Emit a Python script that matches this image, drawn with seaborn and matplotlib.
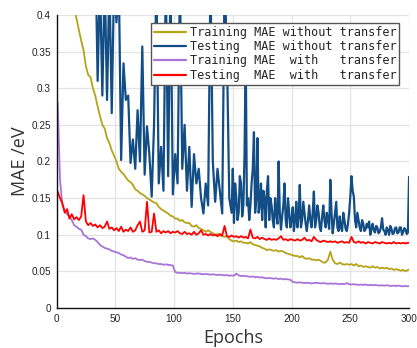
import numpy as np
import pandas as pd
import matplotlib
matplotlib.use("Agg")
import matplotlib.pyplot as plt
from matplotlib.lines import Line2D
import seaborn as sns

# epochs sampled (every 2 epochs, plus final epoch)
epochs = list(range(1, 300, 2)) + [300]
# the noisy testing curve is read at every epoch after epoch 150
epochs_test_no_tl = list(range(1, 150, 2)) + list(range(150, 301))

train_no_tl = [
    0.80, 0.70, 0.62, 0.56, 0.51, 0.47, 0.43, 0.41, 0.395, 0.38,
    0.365, 0.352, 0.33, 0.318, 0.315, 0.30, 0.29, 0.275, 0.262, 0.25,
    0.245, 0.232, 0.225, 0.215, 0.208, 0.20, 0.19, 0.186, 0.183, 0.178,
    0.174, 0.172, 0.168, 0.162, 0.160, 0.157, 0.155, 0.153, 0.150, 0.148,
    0.146, 0.144, 0.143, 0.138, 0.135, 0.133, 0.131, 0.129, 0.126, 0.125,
    0.122, 0.122, 0.119, 0.120, 0.117, 0.116, 0.116, 0.112, 0.111, 0.113,
    0.109, 0.108, 0.106, 0.104, 0.106, 0.104, 0.102, 0.100, 0.101, 0.099,
    0.098, 0.097, 0.098, 0.094, 0.092, 0.091, 0.092, 0.090, 0.091, 0.089,
    0.089, 0.088, 0.090, 0.087, 0.086, 0.085, 0.084, 0.082, 0.081, 0.079,
    0.080, 0.079, 0.078, 0.079, 0.077, 0.078, 0.077, 0.075, 0.074, 0.073,
    0.072, 0.071, 0.071, 0.069, 0.071, 0.068, 0.067, 0.068, 0.066, 0.066,
    0.065, 0.066, 0.064, 0.062, 0.062, 0.066, 0.077, 0.066, 0.061, 0.060,
    0.062, 0.060, 0.059, 0.060, 0.059, 0.060, 0.058, 0.060, 0.057, 0.058,
    0.056, 0.057, 0.056, 0.055, 0.057, 0.055, 0.056, 0.054, 0.055, 0.054,
    0.055, 0.053, 0.054, 0.052, 0.053, 0.052, 0.051, 0.052, 0.050, 0.052,
    0.052,
]

test_no_tl = [
    # epochs 1..149 (odd)
    0.95, 0.85, 0.80, 0.72, 0.76, 0.66, 0.70, 0.62, 0.64, 0.58,
    0.60, 0.55, 0.57, 0.52, 0.54, 0.49, 0.50, 0.31, 0.45, 0.29,
    0.45, 0.284, 0.45, 0.266, 0.45, 0.39, 0.45, 0.202, 0.334, 0.284,
    0.29, 0.198, 0.23, 0.19, 0.27, 0.20, 0.357, 0.182, 0.248, 0.21,
    0.152, 0.25, 0.45, 0.17, 0.22, 0.16, 0.45, 0.18, 0.45, 0.155,
    0.21, 0.17, 0.45, 0.19, 0.25, 0.16, 0.22, 0.138, 0.21, 0.17,
    0.19, 0.15, 0.129, 0.17, 0.14, 0.45, 0.20, 0.145, 0.19, 0.16,
    0.129, 0.45, 0.35, 0.15, 0.13,
    # epochs 150..300 (every epoch)
    0.19, 0.116, 0.17, 0.15, 0.12, 0.13, 0.18, 0.17, 0.125, 0.14,
    0.21, 0.35, 0.14, 0.15, 0.12, 0.14, 0.17, 0.19, 0.24, 0.13,
    0.15, 0.232, 0.13, 0.14, 0.17, 0.12, 0.16, 0.15, 0.11, 0.161,
    0.18, 0.12, 0.15, 0.14, 0.12, 0.11, 0.15, 0.13, 0.115, 0.20,
    0.13, 0.107, 0.125, 0.14, 0.17, 0.12, 0.11, 0.15, 0.13, 0.11,
    0.12, 0.1375, 0.105, 0.12, 0.145, 0.11, 0.125, 0.168, 0.11, 0.12,
    0.145, 0.13, 0.115, 0.105, 0.12, 0.14, 0.12, 0.11, 0.13, 0.159,
    0.11, 0.12, 0.14, 0.13, 0.11, 0.105, 0.125, 0.14, 0.12, 0.11,
    0.13, 0.12, 0.108, 0.175, 0.13, 0.102, 0.115, 0.13, 0.145, 0.11,
    0.105, 0.125, 0.11, 0.105, 0.13, 0.12, 0.108, 0.105, 0.115, 0.13,
    0.152, 0.18, 0.16, 0.152, 0.12, 0.11, 0.13, 0.12, 0.11, 0.105,
    0.12, 0.115, 0.105, 0.1075, 0.115, 0.11, 0.118, 0.10, 0.108, 0.115,
    0.106, 0.103, 0.112, 0.11, 0.102, 0.104, 0.11, 0.1225, 0.107, 0.105,
    0.10, 0.11, 0.106, 0.10, 0.112, 0.108, 0.101, 0.102, 0.109, 0.11,
    0.102, 0.103, 0.11, 0.11, 0.10, 0.104, 0.109, 0.107, 0.101, 0.103,
    0.179,
]

train_tl = [
    0.280, 0.175, 0.140, 0.133, 0.128, 0.125, 0.120, 0.113, 0.111, 0.108,
    0.107, 0.100, 0.098, 0.095, 0.094, 0.095, 0.093, 0.090, 0.086, 0.084,
    0.082, 0.081, 0.080, 0.078, 0.077, 0.076, 0.075, 0.073, 0.072, 0.070,
    0.068, 0.069, 0.067, 0.068, 0.066, 0.0655, 0.066, 0.064, 0.063, 0.063,
    0.062, 0.061, 0.061, 0.060, 0.060, 0.059, 0.0595, 0.059, 0.0585, 0.058,
    0.049, 0.048, 0.048, 0.0475, 0.048, 0.047, 0.0475, 0.047, 0.0465, 0.047,
    0.047, 0.0465, 0.046, 0.0465, 0.046, 0.0455, 0.046, 0.0455, 0.045, 0.0455,
    0.045, 0.0445, 0.045, 0.044, 0.0445, 0.044, 0.047, 0.0445, 0.0435, 0.044,
    0.0435, 0.043, 0.0425, 0.043, 0.042, 0.0425, 0.0415, 0.042, 0.041, 0.0405,
    0.041, 0.0405, 0.040, 0.0405, 0.0395, 0.040, 0.039, 0.0395, 0.039, 0.0385,
    0.0355, 0.035, 0.0345, 0.035, 0.0345, 0.034, 0.0345, 0.034, 0.0335, 0.034,
    0.0345, 0.034, 0.0335, 0.034, 0.0335, 0.033, 0.0335, 0.033, 0.0335, 0.033,
    0.0325, 0.033, 0.0325, 0.034, 0.0325, 0.032, 0.0325, 0.032, 0.0315, 0.032,
    0.0315, 0.032, 0.031, 0.0315, 0.031, 0.0315, 0.031, 0.0305, 0.031, 0.0305,
    0.031, 0.0305, 0.030, 0.0305, 0.030, 0.0305, 0.030, 0.0295, 0.030, 0.0295,
    0.030,
]

test_tl = [
    0.159, 0.150, 0.143, 0.130, 0.135, 0.122, 0.128, 0.121, 0.124, 0.120,
    0.125, 0.154, 0.118, 0.113, 0.116, 0.112, 0.114, 0.110, 0.113, 0.109,
    0.111, 0.118, 0.108, 0.110, 0.106, 0.109, 0.105, 0.111, 0.104, 0.107,
    0.105, 0.110, 0.104, 0.106, 0.113, 0.118, 0.104, 0.106, 0.145, 0.103,
    0.104, 0.129, 0.104, 0.106, 0.102, 0.105, 0.103, 0.105, 0.102, 0.104,
    0.103, 0.105, 0.102, 0.101, 0.104, 0.101, 0.102, 0.100, 0.104, 0.100,
    0.102, 0.106, 0.100, 0.101, 0.099, 0.101, 0.099, 0.100, 0.098, 0.101,
    0.099, 0.112, 0.098, 0.097, 0.099, 0.097, 0.098, 0.096, 0.098, 0.096,
    0.097, 0.095, 0.107, 0.096, 0.095, 0.097, 0.094, 0.096, 0.094, 0.093,
    0.095, 0.093, 0.094, 0.093, 0.095, 0.098, 0.093, 0.094, 0.092, 0.094,
    0.093, 0.092, 0.094, 0.092, 0.093, 0.096, 0.092, 0.093, 0.091, 0.097,
    0.093, 0.091, 0.090, 0.092, 0.091, 0.090, 0.091, 0.090, 0.091, 0.089,
    0.090, 0.091, 0.089, 0.090, 0.089, 0.097, 0.090, 0.089, 0.091, 0.089,
    0.090, 0.088, 0.090, 0.089, 0.088, 0.090, 0.089, 0.088, 0.090, 0.089,
    0.088, 0.089, 0.088, 0.090, 0.088, 0.089, 0.088, 0.089, 0.088, 0.089,
    0.089,
]

labels = [
    "Training MAE without transfer",
    "Testing  MAE without transfer",
    "Training MAE  with   transfer",
    "Testing  MAE  with   transfer",
]
colors = ["#b5a318", "#124d85", "#a874d8", "#ff0000"]
x_ticks = [0, 50, 100, 150, 200, 250, 300]
y_ticks = [0, 0.05, 0.1, 0.15, 0.2, 0.25, 0.3, 0.35, 0.4]
y_tick_labels = ["0", "0.05", "0.1", "0.15", "0.2", "0.25", "0.3", "0.35", "0.4"]

series_x = [epochs, epochs_test_no_tl, epochs, epochs]
series_y = [train_no_tl, test_no_tl, train_tl, test_tl]
frames = []
for lab, xs, ys in zip(labels, series_x, series_y):
    frames.append(pd.DataFrame({"Epoch": xs, "MAE": ys, "Series": lab}))
df = pd.concat(frames, ignore_index=True)

sns.set_style("white")
plt.rcParams["font.family"] = ["Liberation Sans", "DejaVu Sans"]

fig = plt.figure(figsize=(4.17, 3.48), dpi=100)
ax = fig.add_axes([0.1355, 0.115, 0.981 - 0.1355, 0.957 - 0.115])

palette = dict(zip(labels, colors))
sns.lineplot(data=df, x="Epoch", y="MAE", hue="Series", hue_order=labels,
             palette=palette, ax=ax, linewidth=1.3, legend=False)
for line, lab in zip(ax.get_lines(), labels):
    if "Testing  MAE without" in lab:
        line.set_linewidth(1.6)

ax.set_xlim(0, 300)
ax.set_ylim(0, 0.4)
ax.set_xticks(x_ticks)
ax.set_xticklabels([str(t) for t in x_ticks])
ax.set_yticks(y_ticks)
ax.set_yticklabels(y_tick_labels)
ax.tick_params(axis="both", direction="in", length=3, width=0.8, colors="#222222",
               labelsize=7.2, pad=4)
ax.grid(True, color="#e3e3e3", linewidth=0.9)
ax.set_axisbelow(True)
for s in ["top", "right"]:
    ax.spines[s].set_visible(False)
for s in ["left", "bottom"]:
    ax.spines[s].set_color("#111111")
    ax.spines[s].set_linewidth(1.0)

ax.set_xlabel("Epochs", fontsize=13, family="Open Sans", color="#333333", labelpad=4)
ax.set_ylabel("MAE /eV", fontsize=13, family="Open Sans", color="#333333", labelpad=1.5)

handles = [Line2D([0], [0], color=c, lw=1.6) for c in colors]
leg = ax.legend(handles, labels, loc="upper right", bbox_to_anchor=(0.972, 0.972),
                borderaxespad=0, prop={"family": "DejaVu Sans Mono", "size": 8.5},
                frameon=True, fancybox=False, framealpha=1, edgecolor="#555555",
                handlelength=2.7, handletextpad=0.3, borderpad=0.25, labelspacing=0.1)
leg.get_frame().set_linewidth(1.0)
leg.set_zorder(10)

fig.savefig("out.png", dpi=100)
